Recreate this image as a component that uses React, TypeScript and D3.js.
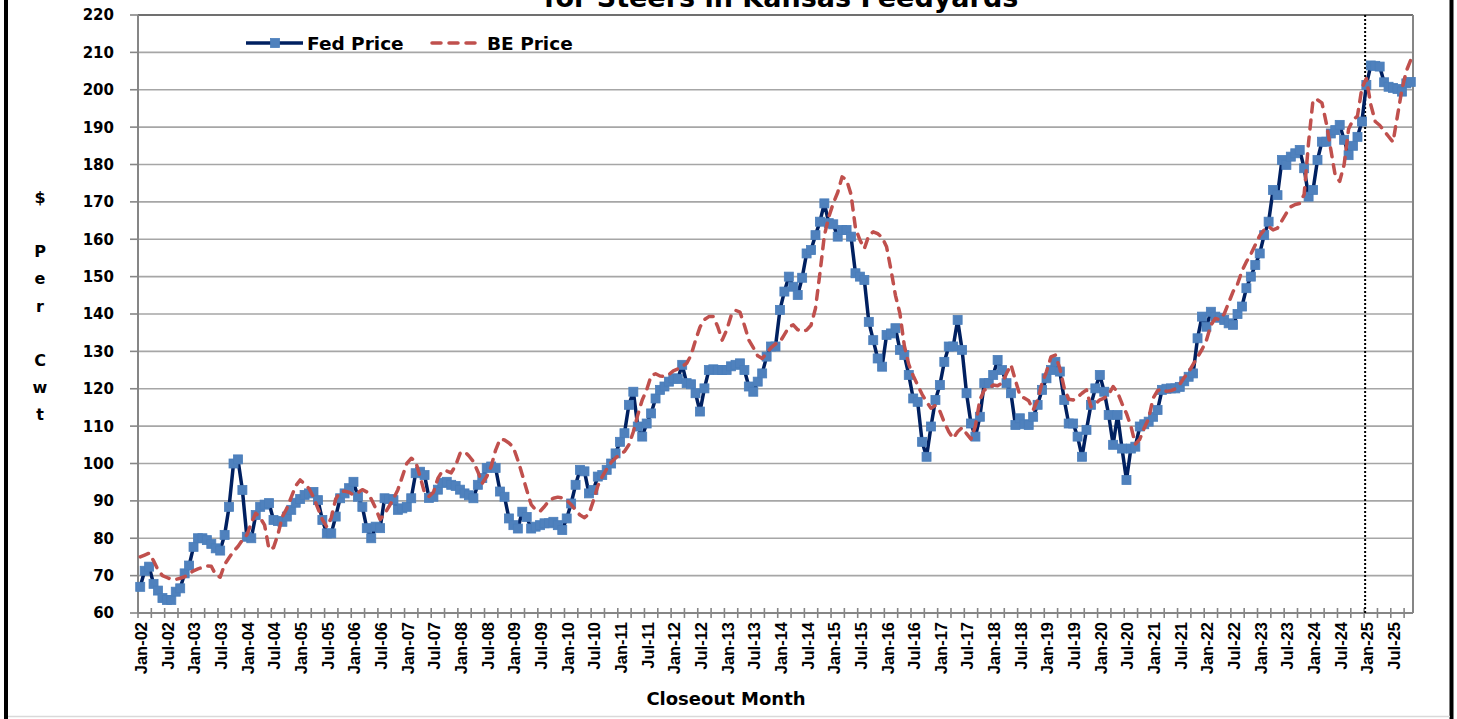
import React from 'react';
import * as d3 from 'd3';

const MONTH_NAMES = ['Jan','Feb','Mar','Apr','May','Jun','Jul','Aug','Sep','Oct','Nov','Dec'];
const START_YEAR = 2002;
const N_MONTHS = 287; // Jan-02 .. Nov-25

const categories: string[] = d3.range(N_MONTHS).map(
  (i) => `${MONTH_NAMES[i % 12]}-${String((START_YEAR + Math.floor(i / 12)) % 100).padStart(2, '0')}`
);

const yTicks = [60, 70, 80, 90, 100, 110, 120, 130, 140, 150, 160, 170, 180, 190, 200, 210, 220];
const dividerMonth = 'Jan-25';

const fedPrice = [
  67, 71.3, 72.4, 67.8, 66, 64, 63.5, 63.5, 65.7, 66.6, 70.6, 72.7,
  77.7, 80, 80, 79.5, 78.5, 77.3, 76.7, 80.9, 88.4, 100, 101.1, 92.9,
  80.4, 80, 86.2, 88.4, 89, 89.4, 84.9, 84.6, 84.4, 85.8, 87.6, 89.5,
  90.5, 91.6, 92, 92.4, 90.2, 84.9, 81.3, 81.3, 85.8, 90.7, 92, 93.4,
  95.1, 91.1, 88.4, 82.7, 80, 83.1, 82.7, 90.7, 90.5, 90.2, 87.6, 88,
  88.4, 90.7, 97.4, 97.8, 96.9, 90.8, 91.1, 93, 94.8, 95.1, 94.3, 94,
  93, 92, 91.5, 90.7, 94.3, 96.1, 98.8, 99.2, 98.8, 92.5, 91.1, 85.3,
  83.5, 82.6, 87.1, 85.7, 82.6, 83.1, 83.5, 84, 84, 84.4, 83.5, 82.2,
  85.3, 89.3, 94.3, 98.3, 97.9, 92, 92.9, 96.5, 96.9, 98.3, 100, 102.7,
  105.8, 108.1, 115.7, 119.2, 109.9, 107.2, 110.7, 113.4, 117.4, 119.7, 120.6, 121.9,
  122.8, 122.6, 126.4, 121.5, 121.2, 118.8, 113.9, 120.1, 125, 125.2, 125, 125,
  125, 126, 126.4, 126.8, 125, 120.6, 119.2, 121.9, 124.1, 128.6, 131.3, 131.3,
  141.1, 146, 150, 147.3, 145.1, 149.7, 156.2, 157.1, 161.1, 164.7, 169.6, 164.3,
  164, 160.7, 162.5, 162.5, 160.7, 150.9, 150, 149.1, 137.9, 133, 128.1, 125.9,
  134.4, 134.8, 136.2, 130.4, 129, 123.7, 117.4, 116.5, 105.8, 101.8, 109.9, 117,
  121, 127.2, 131.3, 131.3, 138.4, 130.4, 118.8, 110.7, 107.2, 112.5, 121.5, 121.5,
  123.7, 127.7, 125, 121.5, 118.8, 110.3, 112.1, 110.5, 110.3, 112.5, 115.7, 119.7,
  122.8, 125, 127.2, 124.6, 117, 110.7, 110.7, 107.2, 101.8, 109, 115.7, 120.1,
  123.7, 119.2, 113, 105, 113, 104, 95.6, 104, 104.5, 109.9, 110.5, 111.2,
  112.5, 114.3, 119.7, 120, 120.1, 120.1, 120.5, 122, 123.2, 124.1, 133.5, 139.3,
  136.6, 140.6, 139.3, 139, 138.4, 137.5, 137.1, 140, 142, 146.9, 150, 153.1,
  156.2, 161.1, 164.7, 173.2, 171.8, 181.2, 179.9, 182.1, 183, 183.9, 179, 171.4,
  173.2, 181.2, 186.1, 186.1, 188.3, 189.2, 190.6, 186.6, 182.5, 185, 187.4, 191.5,
  201.3, 206.5, 206.4, 206.2, 202, 200.8, 200.5, 200.2, 199.5, 201.7, 202.1,
];

const bePrice = [
  75, 75.5, 76, 74, 71.5, 70, 69.5, 69, 69, 69.3, 69.7, 70.5,
  71.3, 71.8, 72.2, 72.6, 72.5, 70.2, 69.6, 73, 74.8, 76.5, 77.8, 79.5,
  80.9, 84, 86.7, 85.5, 83.5, 77, 77.5, 81, 85.8, 88, 91, 94,
  95.6, 94.5, 93.3, 91, 88, 85, 83, 85.5, 90.5, 92.4, 92.6, 92.3,
  91.6, 92.2, 93, 92.4, 90.5, 88, 85, 86.5, 88.5, 90.5, 93, 96.5,
  100, 101.4, 100.5, 96.5, 92.2, 91.2, 92.3, 96, 98, 98, 97.5, 99.5,
  102.7, 103.2, 102, 100.5, 97.8, 94.7, 96.5, 99.2, 103.6, 106.5, 106.3, 105.5,
  104.3, 100.9, 97, 92.9, 89, 87.6, 87.2, 88.5, 90, 90.7, 91, 90.8,
  90.2, 89, 87.5, 86.2, 85.5, 86.5, 90, 94, 96.5, 98.5, 100.3, 101.5,
  102.5, 103.2, 105, 108.5, 113, 117, 119.7, 123.5, 124, 123.4, 123.3, 123.8,
  124.8, 125.3, 126, 126.8, 129, 133, 136.5, 138.5, 139.3, 139.3, 136.6, 133,
  135.7, 139.5, 141, 140.5, 137, 133, 131, 128.8, 128.1, 129.5, 131, 132,
  132.5, 134.5, 136.5, 137.1, 135.8, 135.3, 135.7, 137, 141.5, 150.9, 161, 166,
  169.6, 172.5, 176.7, 175.9, 172, 163, 159.8, 157.5, 161, 162, 161.5, 160.5,
  158, 151.8, 145, 140.2, 131.5, 126.5, 123.5, 121, 118.5, 116.5, 114.8, 115.5,
  114, 111, 108.5, 106.7, 108.5, 109.6, 108, 106.5, 110, 117, 119.7, 120,
  121, 120.8, 121.5, 124.1, 126.4, 122.3, 118.3, 117.5, 116.8, 114.3, 117, 121.5,
  124.6, 128.5, 129, 125.5, 120.1, 117.2, 117, 117.8, 118.8, 119.7, 115.2, 116,
  117, 117.5, 118.5, 120.6, 119, 116, 113.4, 110, 105.2, 106.5, 109.5, 112,
  117.5, 119.5, 120, 119.3, 119.5, 120, 121.2, 123, 124.5, 126.5, 128.5, 130.5,
  133, 137, 138.8, 138.5, 140, 143, 146, 148, 151.5, 154, 156, 158.5,
  161, 162.5, 163.4, 162.5, 163, 165, 167, 168.7, 169.3, 169.6, 172, 186,
  197.3, 197.3, 196.5, 191, 184, 177, 175.5, 180, 189.5, 191.9, 193, 200.5,
  203, 196, 191.5, 190.5, 189, 187.5, 186, 193, 200, 205, 208,
];

const W = 1457;
const H = 719;
const PLOT = { left: 138, right: 1413, top: 15, bottom: 613 };
const FED_COLOR = '#002060';
const MARKER_COLOR = '#4F81BD';
const BE_COLOR = '#C0504D';
const GRID_COLOR = '#A6A6A6';
const AXIS_COLOR = '#868686';
const SANS_BOLD = "'DejaVu Sans', Verdana, sans-serif";

export default function App() {
  const x = d3.scaleBand<string>().domain(categories).range([PLOT.left, PLOT.right]).padding(0);
  const bw = x.bandwidth();
  const cx = (i: number) => (x(categories[i]) as number) + bw / 2;
  const y = d3.scaleLinear().domain([60, 220]).range([PLOT.bottom, PLOT.top]);

  const lineGen = d3
    .line<number>()
    .x((_, i) => cx(i))
    .y((d) => y(d));

  const fedPath = lineGen(fedPrice) || '';
  const bePath = lineGen(bePrice) || '';

  const tickIdx = d3.range(0, N_MONTHS, 3);
  const labelIdx = d3.range(0, N_MONTHS, 6);
  const divX = x(dividerMonth) as number;

  const yLabelLines = ['$', '', 'P', 'e', 'r', '', 'C', 'w', 't'];
  const ms = 9;

  return (
    <svg
      width={W}
      height={H}
      style={{ position: 'absolute', left: 0, top: 0, background: '#fff' }}
      xmlns="http://www.w3.org/2000/svg"
    >
      <rect x={0} y={0} width={W} height={H} fill="#fff" />
      {/* outer frame */}
      <line x1={6} x2={6} y1={0} y2={H} stroke="#000" strokeWidth={4} />
      <line x1={1451.5} x2={1451.5} y1={0} y2={H} stroke="#000" strokeWidth={4} />
      <line x1={8} x2={1450} y1={716.5} y2={716.5} stroke="#D9D9D9" strokeWidth={1.5} />

      {/* title (second line, cut at the top as in the source) */}
      <text x={781} y={7} textAnchor="middle" fontFamily={SANS_BOLD} fontWeight="bold" fontSize={27} fill="#000">
        for Steers in Kansas Feedyards
      </text>

      {/* gridlines */}
      {yTicks.map((t) => (
        <line
          key={'g' + t}
          x1={PLOT.left}
          x2={PLOT.right}
          y1={y(t)}
          y2={y(t)}
          stroke={t === 220 ? '#404040' : GRID_COLOR}
          strokeWidth={1.6}
        />
      ))}
      <line x1={PLOT.right} x2={PLOT.right} y1={PLOT.top} y2={PLOT.bottom} stroke={AXIS_COLOR} strokeWidth={2} />

      {/* y axis */}
      <line x1={PLOT.left} x2={PLOT.left} y1={PLOT.top} y2={PLOT.bottom} stroke={AXIS_COLOR} strokeWidth={2} />
      {yTicks.map((t) => (
        <g key={'yt' + t}>
          <line x1={PLOT.left - 8} x2={PLOT.left} y1={y(t)} y2={y(t)} stroke={AXIS_COLOR} strokeWidth={1.6} />
          <text x={114} y={y(t)} dy="0.36em" textAnchor="end" fontFamily={SANS_BOLD} fontWeight="bold" fontSize={15} fill="#000">
            {t}
          </text>
        </g>
      ))}

      {/* y axis title */}
      {yLabelLines.map((ch, k) =>
        ch ? (
          <text
            key={'yl' + k}
            x={40}
            y={197 + k * 27.2}
            dy="0.36em"
            textAnchor="middle"
            fontFamily={SANS_BOLD}
            fontWeight="bold"
            fontSize={16}
            fill="#000"
          >
            {ch}
          </text>
        ) : null
      )}

      {/* x axis */}
      <line x1={PLOT.left} x2={PLOT.right} y1={PLOT.bottom} y2={PLOT.bottom} stroke={AXIS_COLOR} strokeWidth={2} />
      {tickIdx.map((i) => {
        const tx = x(categories[i]) as number;
        return <line key={'xt' + i} x1={tx} x2={tx} y1={PLOT.bottom - 5} y2={PLOT.bottom + 5} stroke={AXIS_COLOR} strokeWidth={1.6} />;
      })}
      {labelIdx.map((i) => (
        <text
          key={'xl' + i}
          transform={`translate(${cx(i) + 1},${PLOT.bottom + 9}) rotate(-90)`}
          textAnchor="end"
          dy="0.36em"
          fontFamily="'Liberation Sans', Arial, sans-serif"
          fontWeight="bold"
          fontSize={16.5}
          fill="#000"
        >
          {categories[i]}
        </text>
      ))}

      {/* x axis title */}
      <text x={726} y={705} textAnchor="middle" fontFamily={SANS_BOLD} fontWeight="bold" fontSize={18} fill="#000">
        Closeout Month
      </text>

      {/* divider at Jan-25 */}
      <line x1={divX + 1} x2={divX + 1} y1={PLOT.top} y2={PLOT.bottom} stroke="#000" strokeWidth={2} strokeDasharray="2,2" />

      {/* Fed price */}
      <path d={fedPath} fill="none" stroke={FED_COLOR} strokeWidth={3.5} strokeLinejoin="round" />
      {fedPrice.map((v, i) => (
        <rect
          key={'m' + i}
          x={cx(i) - ms / 2}
          y={y(v) - ms / 2}
          width={ms}
          height={ms}
          fill={MARKER_COLOR}
          stroke="#4A7EBB"
          strokeWidth={0.8}
        />
      ))}

      {/* BE price */}
      <path
        d={bePath}
        fill="none"
        stroke={BE_COLOR}
        strokeWidth={3.5}
        strokeDasharray="9,8"
        strokeLinecap="round"
        strokeLinejoin="round"
      />

      {/* legend */}
      <line x1={246} x2={303} y1={43} y2={43} stroke={FED_COLOR} strokeWidth={3.5} />
      <rect x={275 - ms / 2} y={43 - ms / 2} width={ms} height={ms} fill={MARKER_COLOR} stroke="#4A7EBB" strokeWidth={0.8} />
      <text x={307} y={43} dy="0.36em" fontFamily={SANS_BOLD} fontWeight="bold" fontSize={18.5} fill="#000">
        Fed Price
      </text>
      <line x1={432} x2={482} y1={43} y2={43} stroke={BE_COLOR} strokeWidth={3.5} strokeDasharray="9,8" strokeLinecap="round" />
      <text x={487} y={43} dy="0.36em" fontFamily={SANS_BOLD} fontWeight="bold" fontSize={18.5} fill="#000">
        BE Price
      </text>
    </svg>
  );
}
